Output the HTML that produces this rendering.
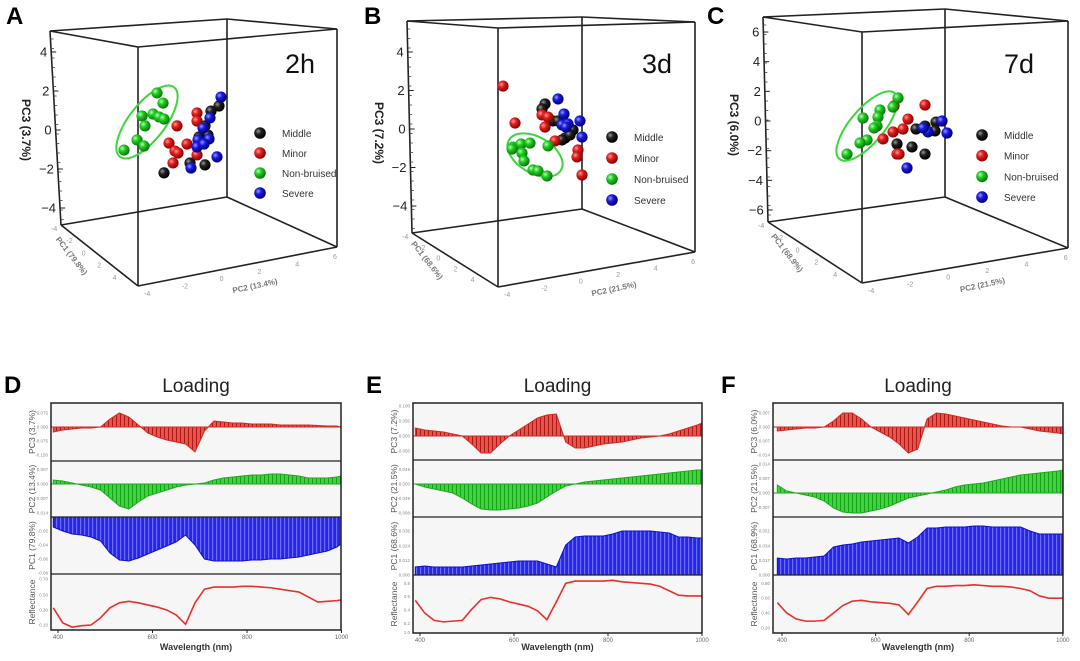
<!DOCTYPE html>
<html><head><meta charset="utf-8"><style>
html,body{margin:0;padding:0;background:#fff}
svg{display:block;font-family:"Liberation Sans",sans-serif}
</style></head><body>
<svg id="fig" width="1080" height="661" viewBox="0 0 1080 661">
<defs>
<radialGradient id="gk" cx="35%" cy="35%" r="65%"><stop offset="0" stop-color="#999"/><stop offset="0.4" stop-color="#222"/><stop offset="1" stop-color="#000"/></radialGradient>
<radialGradient id="gr" cx="35%" cy="35%" r="65%"><stop offset="0" stop-color="#ff9a9a"/><stop offset="0.4" stop-color="#e02020"/><stop offset="1" stop-color="#8a0000"/></radialGradient>
<radialGradient id="gg" cx="35%" cy="35%" r="65%"><stop offset="0" stop-color="#b8ffb8"/><stop offset="0.4" stop-color="#22cc22"/><stop offset="1" stop-color="#0a7a0a"/></radialGradient>
<radialGradient id="gb" cx="35%" cy="35%" r="65%"><stop offset="0" stop-color="#9a9aff"/><stop offset="0.4" stop-color="#1a1ae0"/><stop offset="1" stop-color="#00007a"/></radialGradient>
<pattern id="pr" width="4" height="10" patternUnits="userSpaceOnUse"><rect width="4" height="10" fill="#e4554c"/><rect width="1" height="10" fill="#b01818"/></pattern>
<pattern id="pg" width="4" height="10" patternUnits="userSpaceOnUse"><rect width="4" height="10" fill="#3fd43f"/><rect width="1" height="10" fill="#18a018"/></pattern>
<pattern id="pb" width="4" height="10" patternUnits="userSpaceOnUse"><rect width="4" height="10" fill="#2626e6"/><rect width="1.2" height="10" fill="#6a6aff"/></pattern>
</defs>
</svg>
<script>
// ---------- scatter data (PC2 score, PC3 score) ----------
const groups=['Middle','Minor','Non-bruised','Severe'];
const aMidX=[1.55,1.95,1.25,1.4,0.95,0.5,1.25,-0.8];
const aMidY=[0.97,1.23,0.21,-0.26,-0.36,-1.69,-1.79,-2.2];
const aMinX=[0.85,0.85,-0.15,-0.55,0.35,-0.25,-0.1,0.85,-0.35];
const aMinY=[0.87,0.46,0.21,-0.67,-0.72,-1.08,-1.18,-1.28,-1.69];
const aNonX=[-1.15,-0.85,-1.9,-1.35,-1.05,-0.8,-1.75,-2.15,-1.8,-2.8];
const aNonY=[1.9,1.38,0.72,0.82,0.67,0.56,0.21,-0.51,-0.82,-1.03];
const aSevX=[2.05,1.5,1.15,0.9,1.45,0.85,1.2,1.85,0.55];
const aSevY=[1.69,0.62,0.1,-0.51,-0.46,-0.87,-0.72,-1.38,-1.95];
const bMidX=[0.25,0.1,0.65,0.9,1.25,1.65,1.5,1.1];
const bMidY=[1.3,1.04,0.42,0.42,-0.47,-0.05,-0.31,-0.57];
const bMinX=[-1.85,-1.25,0.1,0.4,0.25,0.75,1.9,1.85,2.1];
const bMinY=[2.23,0.31,0.73,0.62,0.1,-0.62,-1.09,-1.45,-2.39];
const bNonX=[-1.35,-0.95,-0.5,0.4,-0.9,-0.8,-0.35,-0.1,0.35,-1.4];
const bNonY=[-0.94,-0.78,-0.73,-0.88,-1.25,-1.66,-2.13,-2.18,-2.44,-1.04];
const bSevX=[0.9,1.2,1.1,1.4,2.0,2.1,1.3];
const bSevY=[1.56,0.78,0.21,0.26,0.42,-0.42,0.1];
const cMidX=[0.8,1.25,1.8,1.75,-0.15,0.6,1.25];
const cMidY=[-0.54,-0.34,-0.07,-0.67,-1.55,-1.75,-2.23];
const cMinX=[-0.3,1.25,0.4,0.15,-0.35,-0.85,-0.15,-0.05];
const cMinY=[1.01,1.08,0.13,-0.54,-0.74,-1.21,-2.23,-2.23];
const cNonX=[-0.1,-0.35,-1,-1.1,-1.85,-1.15,-1.3,-1.65,-2,-2.65];
const cNonY=[1.55,0.94,0.74,0.27,0.2,-0.34,-0.47,-1.28,-1.48,-2.23];
const cSevX=[2.1,1.4,2.35,0.35,1.15];
const cSevY=[0,-0.74,-0.81,-3.17,-0.47];
const abTicks=[4,2,0,-2,-4];
const cTicks=[6,4,2,0,-2,-4,-6];

// ---------- loading data (wavelength nm; loadings in panel units) ----------
const wl=[390,410,430,450,470,490,510,530,550,570,590,610,630,650,670,690,710,730,750,770,790,810,830,850,870,890,910,930,950,970,990,1000];
const dPC3=[-5,-3,-2,-1,-1,0,8,14,10,2,-6,-10,-13,-15,-17,-25,-4,6,5,4,4,3,3,3,2,2,2,2,1.5,1,1,0];
const dPC2=[4,3,1,-1,-3,-6,-14,-22,-25,-18,-12,-9,-6,-3,-1,0,1,4,6,7,8,9,9,10,10,9,8,6,6,6,7,8];
const dPC1=[-10,-14,-17,-18,-20,-24,-36,-43,-44,-41,-37,-33,-29,-25,-18,-28,-42,-44,-44,-44,-44,-43,-43,-42,-42,-41,-40,-38,-36,-34,-30,-27];
const dRef=[0.34,0.13,0.07,0.09,0.1,0.2,0.34,0.41,0.43,0.41,0.38,0.35,0.31,0.24,0.11,0.41,0.6,0.63,0.63,0.63,0.64,0.64,0.63,0.62,0.6,0.58,0.56,0.49,0.42,0.43,0.44,0.45];
const ePC3=[8,6,5,4,2,0,-8,-17,-17,-8,0,6,12,18,21,22,-6,-12,-12,-10,-8,-7,-6,-4,-2,-1,0,2,5,8,11,13];
const ePC2=[0,-3,-5,-7,-9,-14,-20,-25,-26,-26,-25,-24,-22,-19,-13,-7,-2,0,2,3,4,5,6,7,8,9,10,11,12,13,14,14];
const ePC1=[8,9,8,8,8,8,9,10,11,12,13,14,14,14,11,8,30,38,39,39,39,41,44,44,44,44,43,42,38,38,37,37];
const eRef=[0.47,0.3,0.2,0.18,0.19,0.2,0.35,0.48,0.51,0.49,0.45,0.42,0.39,0.33,0.21,0.45,0.7,0.73,0.73,0.73,0.73,0.74,0.72,0.71,0.7,0.69,0.66,0.6,0.54,0.53,0.53,0.53];
const fPC3=[-4,-3,-2,-1,-1,0,6,14,14,8,0,-5,-10,-17,-26,-22,8,14,13,11,9,7,5,3,1,0,0,-2,-4,-5,-6,-7];
const fPC2=[8,2,0,-2,-4,-8,-15,-19,-20,-20,-18,-16,-13,-9,-5,-3,-1,1,3,6,8,9,10,12,14,16,18,19,20,21,22,23];
const fPC1=[17,16,17,17,18,19,28,30,31,33,34,35,36,37,32,38,47,47,48,48,48,49,49,48,48,48,48,44,41,41,41,41];
const fRef=[0.44,0.3,0.22,0.19,0.19,0.2,0.3,0.4,0.46,0.47,0.45,0.44,0.43,0.41,0.28,0.45,0.63,0.66,0.66,0.67,0.67,0.68,0.67,0.66,0.66,0.65,0.63,0.6,0.53,0.5,0.5,0.5];
const xTickVals=[400,600,800,1000];

const NS='http://www.w3.org/2000/svg';
const svg=document.getElementById('fig');
function mk(tag,attrs,parent){const e=document.createElementNS(NS,tag);for(const k in attrs)e.setAttribute(k,attrs[k]);(parent||svg).appendChild(e);return e;}
function txt(s,attrs,parent){const e=mk('text',attrs,parent);e.textContent=s;return e;}

// ---------- 3D scatter panels ----------
const scatterPanels=[
 {id:'a',letter:'A',lx:6,tag:'2h',tagx:285,yl:'PC3 (3.7%)',ylx:26,yly:130,box:{L:[50,31,61,225],F:[138,47,138,286],B:[227,19,227,197],R:[337,29,337,247]},
  ox:180,kx:20,oy:130,ky:19.5,ticks:abTicks,ell:[147,122,44,18,-52],leg:[260,133,20],
  data:[[aMidX,aMidY],[aMinX,aMinY],[aNonX,aNonY],[aSevX,aSevY]],pc2:'PC2 (13.4%)',pc1:'PC1 (79.8%)'},
 {id:'b',letter:'B',lx:364,tag:'3d',tagx:642,yl:'PC3 (7.2%)',ylx:379,yly:133,box:{L:[407,21,412,233],F:[498,28,498,287],B:[582,17,582,209],R:[695,22,695,252]},
  ox:540,kx:20,oy:129,ky:19.25,ticks:abTicks,ell:[535,155,30,18,30],leg:[612,137,21],
  data:[[bMidX,bMidY],[bMinX,bMinY],[bNonX,bNonY],[bSevX,bSevY]],pc2:'PC2 (21.5%)',pc1:'PC1 (68.6%)'},
 {id:'c',letter:'C',lx:707,tag:'7d',tagx:1004,yl:'PC3 (6.0%)',ylx:734,yly:125,box:{L:[763,17,768,222],F:[862,32,862,283],B:[945,9,945,197],R:[1068,21,1068,248]},
  ox:900,kx:20,oy:121,ky:14.83,ticks:cTicks,ell:[867,126,43,17,-50],leg:[982,135,20.7],
  data:[[cMidX,cMidY],[cMinX,cMinY],[cNonX,cNonY],[cSevX,cSevY]],pc2:'PC2 (21.5%)',pc1:'PC1 (68.9%)'}
];
const grads=['url(#gk)','url(#gr)','url(#gg)','url(#gb)'];
scatterPanels.forEach(p=>{
  const g=mk('g',{});
  
  
  const xs=u=>p.ox+p.kx*u, ys=v=>p.oy-p.ky*v;
  const b=p.box, ln={stroke:'#222','stroke-width':1.6,fill:'none'};
  const tops=['L','B','R','F'];
  for(let i=0;i<4;i++){const a=b[tops[i]],c=b[tops[(i+1)%4]];
    mk('line',Object.assign({x1:a[0],y1:a[1],x2:c[0],y2:c[1]},ln),g);
    mk('line',Object.assign({x1:a[2],y1:a[3],x2:c[2],y2:c[3]},ln),g);}
  tops.forEach(k=>{const a=b[k];mk('line',Object.assign({x1:a[0],y1:a[1],x2:a[2],y2:a[3]},ln),g);});
  const L=b.L, lxAt=y=>L[0]+(L[2]-L[0])*(y-L[1])/(L[3]-L[1]);
  p.ticks.forEach(t=>{const y=ys(t),x=lxAt(y);
    mk('line',{x1:x,y1:y,x2:x+5,y2:y,stroke:'#222','stroke-width':1},g);
    const tl=txt(t<0?'\u2212'+(-t):String(t),{x:x-4,y:y+4.5,'font-size':13,'text-anchor':'end',fill:'#222'},g);
    
    });
  for(let y=L[1]+8;y<L[3];y+=9.5){const x=lxAt(y);mk('line',{x1:x,y1:y,x2:x+3,y2:y,stroke:'#444','stroke-width':0.8},g);}
  const yl=txt(p.yl,{x:0,y:0,'font-size':12,'font-weight':'bold','text-anchor':'middle',fill:'#222',transform:`translate(${p.ylx-4},${p.yly}) rotate(90)`},g);
  
  
  const lt=txt(p.letter,{x:p.lx,y:24,'font-size':24,'font-weight':'bold',fill:'#000'},g);
  
  
  const tg=txt(p.tag,{x:p.tagx,y:73,'font-size':27,fill:'#111'},g);
  
  
  // bottom axis labels (faint)
  const F=b.F,R=b.R;
  const p2=txt(p.pc2,{x:0,y:0,'font-size':8,'font-weight':'bold',fill:'#777','text-anchor':'middle',transform:`translate(${(F[2]+R[2])/2+18},${(F[3]+R[3])/2+22}) rotate(-12)`},g);
  
  
  const p1=txt(p.pc1,{x:0,y:0,'font-size':8,'font-weight':'bold',fill:'#777','text-anchor':'middle',transform:`translate(${(L[2]+F[2])/2-30},${(L[3]+F[3])/2+2}) rotate(52)`},g);
  
  
  for(let i=0;i<6;i++){const t=i/5;
    txt(['-4','-2','0','2','4','6'][i],{x:F[2]+(R[2]-F[2])*t*0.95+6,y:F[3]+(R[3]-F[3])*t*0.95+10,'font-size':7,fill:'#999'},g);
    txt(['-4','-2','0','2','4',''][i],{x:L[2]+(F[2]-L[2])*t-10,y:L[3]+(F[3]-L[3])*t+6,'font-size':7,fill:'#999'},g);}
  // ellipse
  const e=p.ell;
  const el=mk('ellipse',{cx:e[0],cy:e[1],rx:e[2],ry:e[3],fill:'none',stroke:'#3dd63d','stroke-width':2,transform:`rotate(${e[4]} ${e[0]} ${e[1]})`},g);
  
  
  // points
  p.data.forEach((d,gi)=>{d[0].forEach((u,i)=>{
    const c=mk('circle',{cx:xs(u),cy:ys(d[1][i]),r:5.6,fill:grads[gi]},g);
    
    });});
  // legend
  groups.forEach((nm,gi)=>{const y=p.leg[1]+gi*p.leg[2];
    const lg=mk('g',{},g);
    
    
    mk('circle',{cx:p.leg[0],cy:y,r:5.8,fill:grads[gi]},lg);
    txt(nm,{x:p.leg[0]+22,y:y+4,'font-size':10,fill:'#333'},lg);});
});

// ---------- loading panels ----------
const loadPanels=[
 {id:'d',letter:'D',lx:4,x0:51,x1:341,tx400:58,k:0.4725,tops:[403,461,517,574,630],
  subs:[{v:dPC3,dom:[-34,24],c:'#d42a22',pat:'url(#pr)',lab:'PC3 (3.7%)',tk:[[14,'0.075'],[0,'0.000'],[-14,'-0.075'],[-28,'-0.150']]},
        {v:dPC2,dom:[-33,23],c:'#1fa81f',pat:'url(#pg)',lab:'PC2 (13.4%)',tk:[[14.5,'0.007'],[0,'0.000'],[-14.5,'-0.007'],[-29,'-0.014']]},
        {v:dPC1,dom:[-57,0],c:'#1010c8',pat:'url(#pb)',lab:'PC1 (79.8%)',tk:[[-14,'-0.02'],[-28,'-0.04'],[-42,'-0.06'],[-56,'-0.08']]},
        {v:dRef,dom:[0.03,0.812],ref:true,lab:'Reflectance',tk:[[0.74,'0.70'],[0.52,'0.50'],[0.31,'0.30'],[0.1,'0.10']]}]},
 {id:'e',letter:'E',lx:366,x0:413,x1:702,tx400:420,k:0.47,tops:[403,460,517,575,633],
  subs:[{v:ePC3,dom:[-24,33],c:'#d42a22',pat:'url(#pr)',lab:'PC3 (7.2%)',tk:[[30,'0.100'],[15,'0.050'],[0,'0.000'],[-15,'-0.050']]},
        {v:ePC2,dom:[-33,24],c:'#1fa81f',pat:'url(#pg)',lab:'PC2 (21.5%)',tk:[[14.5,'0.049'],[0,'0.000'],[-14.5,'-0.049'],[-29,'-0.098']]},
        {v:ePC1,dom:[0,58],c:'#1010c8',pat:'url(#pb)',lab:'PC1 (68.6%)',tk:[[44,'0.036'],[29,'0.024'],[14.5,'0.012'],[0,'0.000']]},
        {v:eRef,dom:[0.03,0.812],ref:true,lab:'Reflectance',tk:[[0.7,'0.8'],[0.52,'0.6'],[0.34,'0.4'],[0.16,'0.2'],[0.04,'1.0']]}]},
 {id:'f',letter:'F',lx:721,x0:773,x1:1063,tx400:782,k:0.468,tops:[403,460,517,575,633],
  subs:[{v:fPC3,dom:[-33,24],c:'#d42a22',pat:'url(#pr)',lab:'PC3 (6.0%)',tk:[[14,'0.007'],[0,'0.000'],[-14,'-0.007'],[-28,'-0.014']]},
        {v:fPC2,dom:[-24,33],c:'#1fa81f',pat:'url(#pg)',lab:'PC2 (21.5%)',tk:[[29,'0.014'],[14.5,'0.007'],[0,'0.000'],[-14.5,'-0.007']]},
        {v:fPC1,dom:[0,58],c:'#1010c8',pat:'url(#pb)',lab:'PC1 (68.9%)',tk:[[44,'0.051'],[29,'0.034'],[14.5,'0.017'],[0,'0.000']]},
        {v:fRef,dom:[0.03,0.812],ref:true,lab:'Reflectance',tk:[[0.7,'0.80'],[0.5,'0.60'],[0.3,'0.40'],[0.1,'0.20']]}]}
];
loadPanels.forEach(P=>{
  const g=mk('g',{});
  
  
  const xs=w=>P.tx400+(w-400)*P.k;
  const lt=txt(P.letter,{x:P.lx,y:393,'font-size':24,'font-weight':'bold',fill:'#000'},g);
  
  
  const tt=txt('Loading',{x:(P.x0+P.x1)/2,y:392,'font-size':19,'text-anchor':'middle',fill:'#222'},g);
  
  
  mk('rect',{x:P.x0,y:P.tops[0],width:P.x1-P.x0,height:P.tops[4]-P.tops[0],fill:'#f6f6f6'},g);
  P.subs.forEach((s,i)=>{
    const top=P.tops[i],bot=P.tops[i+1];
    const ys=v=>bot-(v-s.dom[0])/(s.dom[1]-s.dom[0])*(bot-top);
    const sg=mk('g',{},g);
    
    
    const cid='clip'+P.id+i;
    const cp=mk('clipPath',{id:cid},sg);mk('rect',{x:P.x0,y:top,width:P.x1-P.x0,height:bot-top},cp);
    const pts=wl.map((w,j)=>[Math.max(P.x0,Math.min(P.x1,xs(w))),ys(s.v[j])]);
    if(s.ref){
      const pl=mk('polyline',{points:pts.map(q=>q.join(',')).join(' '),fill:'none',stroke:'#e8302a','stroke-width':1.6,'clip-path':`url(#${cid})`},sg);
      
      
    } else {
      const y0=ys(0);
      const poly=[[pts[0][0],y0]].concat(pts,[[pts[pts.length-1][0],y0]]);
      const pg=mk('polygon',{points:poly.map(q=>q.join(',')).join(' '),fill:s.pat,stroke:s.c,'stroke-width':1,'clip-path':`url(#${cid})`},sg);
      
      
      mk('line',{x1:P.x0,y1:y0,x2:P.x1,y2:y0,stroke:s.c,'stroke-width':1},sg);
    }
    s.tk.forEach(t=>{const ty=ys(t[0]);if(ty<top-1||ty>bot+1)return;
      txt(t[1],{x:P.x0-3,y:ty+1.5,'font-size':4.5,'text-anchor':'end',fill:'#888'},sg);});
    const yl=txt(s.lab,{x:0,y:0,'font-size':8.5,'text-anchor':'middle',fill:'#555',transform:`translate(${P.x0-16},${(top+bot)/2}) rotate(-90)`},sg);
    
    
    if(i>0)mk('line',{x1:P.x0,y1:top,x2:P.x1,y2:top,stroke:'#222','stroke-width':1.3},g);
  });
  mk('rect',{x:P.x0,y:P.tops[0],width:P.x1-P.x0,height:P.tops[4]-P.tops[0],fill:'none',stroke:'#222','stroke-width':1.5},g);
  xTickVals.forEach(w=>{const x=xs(w);
    mk('line',{x1:x,y1:P.tops[4],x2:x,y2:P.tops[4]+3,stroke:'#222','stroke-width':1},g);
    const tl=txt(String(w),{x:x,y:P.tops[4]+9,'font-size':6,'text-anchor':'middle',fill:'#666'},g);
    
    });
  const xt=txt('Wavelength (nm)',{x:(P.x0+P.x1)/2,y:650,'font-size':9,'font-weight':'bold','text-anchor':'middle',fill:'#333'},g);
  
  
});
</script>
</body></html>
